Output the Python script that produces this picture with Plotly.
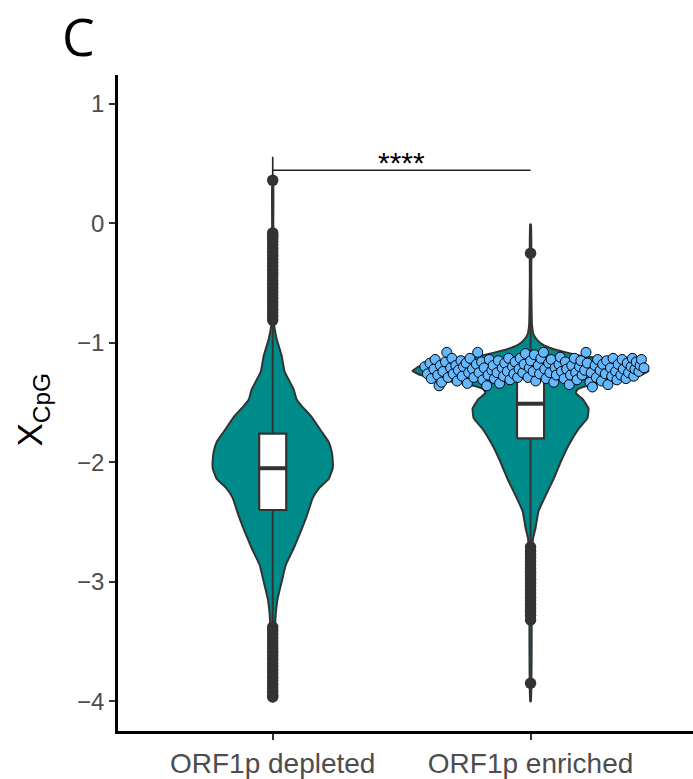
import plotly.graph_objects as go

# ---------------- data ----------------
categories = ["ORF1p depleted", "ORF1p enriched"]
cat_pos = [1, 2]

# box statistics per group
q1 = [-2.40, -1.80]
median = [-2.05, -1.51]
q3 = [-1.76, -1.22]
lowerfence = [-3.35, -2.68]
upperfence = [-0.83, -0.36]

# violin density profiles (y value, relative density)
dep_y = [0.36, 0.0, -0.5, -0.85, -0.97, -1.11, -1.24, -1.39, -1.47, -1.53, -1.61, -1.745,
         -1.83, -1.91, -1.98, -2.05, -2.14, -2.22, -2.30, -2.45, -2.58, -2.72, -2.86,
         -3.00, -3.14, -3.28, -3.56, -4.00]
dep_w = [0.004, 0.005, 0.007, 0.012, 0.034, 0.076, 0.10, 0.177, 0.20, 0.245, 0.32, 0.413,
         0.472, 0.497, 0.506, 0.506, 0.472, 0.388, 0.337, 0.287, 0.236, 0.177, 0.11,
         0.076, 0.042, 0.025, 0.01, 0.004]

enr_y = [-0.01, -0.5, -0.85, -0.93, -0.98, -1.02, -1.05, -1.08, -1.11, -1.14, -1.17, -1.20,
         -1.235, -1.27, -1.30, -1.33, -1.36, -1.39, -1.42, -1.47, -1.55, -1.63, -1.72,
         -1.86, -2.00, -2.14, -2.28, -2.41, -2.55, -2.64, -2.90, -4.00]
enr_w = [0.004, 0.006, 0.012, 0.025, 0.059, 0.11, 0.185, 0.30, 0.44, 0.69, 0.86, 0.944,
         0.995, 0.927, 0.80, 0.632, 0.48, 0.396, 0.38, 0.438, 0.489, 0.48, 0.405,
         0.32, 0.253, 0.194, 0.126, 0.067, 0.042, 0.021, 0.01, 0.004]

# box-plot outliers
dep_out = [0.36, -0.08, -0.10, -0.12, -0.15, -0.18, -0.21, -0.24, -0.27, -0.30, -0.33,
           -0.36, -0.39, -0.42, -0.45, -0.48, -0.51, -0.54, -0.57, -0.60, -0.63, -0.66,
           -0.69, -0.72, -0.75, -0.78, -0.81,
           -3.38, -3.41, -3.44, -3.47, -3.50, -3.53, -3.56, -3.59, -3.62, -3.65, -3.68,
           -3.71, -3.74, -3.77, -3.80, -3.83, -3.86, -3.89, -3.92, -3.95, -3.965]
enr_out = [-0.25, -2.71, -2.74, -2.77, -2.80, -2.83, -2.86, -2.89, -2.92, -2.95, -2.98,
           -3.01, -3.04, -3.07, -3.10, -3.13, -3.16, -3.19, -3.22, -3.25, -3.28, -3.32,
           -3.85]

# jittered highlighted points of the enriched group (offset from category, value)
jitter_pts = [
    (-0.41, -1.20), (-0.40, -1.26), (-0.39, -1.17), (-0.385, -1.30), (-0.375, -1.22), (-0.37, -1.14), (-0.36, -1.27), (-0.355, -1.36),
    (-0.35, -1.19), (-0.345, -1.33), (-0.34, -1.24), (-0.33, -1.16), (-0.325, -1.08), (-0.32, -1.29), (-0.31, -1.21), (-0.305, -1.13),
    (-0.30, -1.26), (-0.29, -1.19), (-0.285, -1.32), (-0.28, -1.23), (-0.27, -1.15), (-0.265, -1.28), (-0.26, -1.20), (-0.25, -1.17),
    (-0.245, -1.34), (-0.24, -1.25), (-0.235, -1.13), (-0.225, -1.22), (-0.22, -1.29), (-0.21, -1.18), (-0.205, -1.08), (-0.20, -1.25),
    (-0.19, -1.16), (-0.185, -1.31), (-0.18, -1.21), (-0.17, -1.36), (-0.165, -1.27), (-0.16, -1.14), (-0.15, -1.23), (-0.145, -1.19),
    (-0.14, -1.30), (-0.13, -1.25), (-0.125, -1.15), (-0.12, -1.34), (-0.11, -1.21), (-0.105, -1.28), (-0.10, -1.17), (-0.09, -1.24),
    (-0.085, -1.13), (-0.08, -1.31), (-0.07, -1.20), (-0.065, -1.26), (-0.06, -1.16), (-0.05, -1.29), (-0.045, -1.22), (-0.04, -1.13),
    (-0.03, -1.25), (-0.025, -1.18), (-0.02, -1.09), (-0.01, -1.29), (-0.005, -1.21), (0.0, -1.15), (0.01, -1.24), (0.015, -1.10),
    (0.02, -1.32), (0.03, -1.19), (0.035, -1.26), (0.04, -1.13), (0.05, -1.08), (0.055, -1.22), (0.06, -1.30), (0.07, -1.17),
    (0.075, -1.25), (0.08, -1.14), (0.09, -1.33), (0.095, -1.21), (0.10, -1.27), (0.11, -1.18), (0.115, -1.12), (0.12, -1.24),
    (0.13, -1.30), (0.135, -1.16), (0.14, -1.22), (0.15, -1.35), (0.155, -1.27), (0.16, -1.19), (0.17, -1.13), (0.175, -1.25),
    (0.18, -1.31), (0.19, -1.20), (0.195, -1.15), (0.20, -1.27), (0.21, -1.23), (0.215, -1.08), (0.22, -1.17), (0.23, -1.33),
    (0.235, -1.25), (0.24, -1.37), (0.25, -1.19), (0.255, -1.29), (0.26, -1.14), (0.27, -1.23), (0.275, -1.32), (0.28, -1.18),
    (0.29, -1.26), (0.295, -1.15), (0.30, -1.35), (0.31, -1.21), (0.315, -1.28), (0.32, -1.13), (0.33, -1.24), (0.335, -1.31),
    (0.34, -1.18), (0.35, -1.27), (0.355, -1.14), (0.36, -1.22), (0.37, -1.30), (0.375, -1.17), (0.38, -1.25), (0.39, -1.20),
    (0.395, -1.13), (0.40, -1.28), (0.405, -1.22), (0.41, -1.16), (0.42, -1.24), (0.425, -1.19), (0.43, -1.14), (0.44, -1.21),
]
jitter_dx = [p[0] for p in jitter_pts]
jitter_y = [p[1] for p in jitter_pts]

y_ticks = [-4, -3, -2, -1, 0, 1]
sig_label = "****"
sig_bar_y = 0.445
sig_tip_top = 0.557
sig_tip_bottom = 0.40

# ---------------- style ----------------
VIOLIN_HALF = 0.46
BOX_W = 0.105
TEAL = "#008B8B"
DARK = "#333333"
BLUE = "#63B8FF"
FONT = "Liberation Sans"

fig = go.Figure()


def violin_trace(pos, ys, ws):
    xr = [pos + w * VIOLIN_HALF for w in ws]
    xl = [pos - w * VIOLIN_HALF for w in ws][::-1]
    return go.Scatter(
        x=xr + xl + [xr[0]], y=ys + ys[::-1] + [ys[0]],
        mode="lines", fill="toself", fillcolor=TEAL,
        line=dict(color=DARK, width=2, shape="spline", smoothing=0.3),
        hoverinfo="skip", showlegend=False,
    )


fig.add_trace(violin_trace(cat_pos[0], dep_y, dep_w))
fig.add_trace(violin_trace(cat_pos[1], enr_y, enr_w))

for i, pos in enumerate(cat_pos):
    # whiskers
    fig.add_trace(go.Scatter(
        x=[pos, pos, None, pos, pos],
        y=[q3[i], upperfence[i], None, q1[i], lowerfence[i]],
        mode="lines", line=dict(color=DARK, width=2),
        showlegend=False, hoverinfo="skip",
    ))
    # box
    xl, xr = pos - BOX_W / 2, pos + BOX_W / 2
    fig.add_trace(go.Scatter(
        x=[xl, xr, xr, xl, xl], y=[q1[i], q1[i], q3[i], q3[i], q1[i]],
        mode="lines", fill="toself", fillcolor="white",
        line=dict(color=DARK, width=2.2),
        showlegend=False, hoverinfo="skip",
    ))
    # median
    fig.add_trace(go.Scatter(
        x=[xl, xr], y=[median[i], median[i]],
        mode="lines", line=dict(color=DARK, width=4), showlegend=False, hoverinfo="skip",
    ))

for pos, outs in zip(cat_pos, [dep_out, enr_out]):
    fig.add_trace(go.Scatter(
        x=[pos] * len(outs), y=outs, mode="markers",
        marker=dict(size=11.5, color=DARK, line=dict(width=0)),
        showlegend=False, hoverinfo="skip",
    ))

fig.add_trace(go.Scatter(
    x=[cat_pos[1] + d for d in jitter_dx], y=jitter_y, mode="markers",
    marker=dict(size=10, color=BLUE, line=dict(color="black", width=1)),
    showlegend=False, hoverinfo="skip",
))

# significance bracket
fig.add_trace(go.Scatter(
    x=[cat_pos[0], cat_pos[0], None, cat_pos[0], cat_pos[1]],
    y=[sig_tip_top, sig_tip_bottom, None, sig_bar_y, sig_bar_y],
    mode="lines", line=dict(color="#222222", width=1.6),
    showlegend=False, hoverinfo="skip",
))
fig.add_annotation(
    x=(cat_pos[0] + cat_pos[1]) / 2, y=sig_bar_y, yshift=-11, text=sig_label,
    showarrow=False, xanchor="center", yanchor="bottom",
    font=dict(family=FONT, size=30, color="black"),
)

# y title
fig.add_annotation(
    xref="paper", yref="paper", x=0, y=0.49, xshift=-86, text="X<sub>CpG</sub>",
    textangle=-90, showarrow=False, xanchor="center", yanchor="middle",
    font=dict(family=FONT, size=35, color="black"),
)
# panel tag
fig.add_annotation(
    xref="paper", yref="paper", x=0, y=1, xshift=-40, yshift=40, text="C",
    showarrow=False, xanchor="center", yanchor="middle",
    font=dict(family="Open Sans", size=52, color="black"),
)

fig.update_layout(
    width=693, height=779, autosize=False,
    margin=dict(l=118, r=0, t=75, b=46),
    paper_bgcolor="white", plot_bgcolor="white",
    showlegend=False,
    xaxis=dict(
        range=[0.4, 2.63], tickvals=cat_pos, ticktext=categories,
        showline=True, linecolor="black", linewidth=2.5,
        ticks="outside", ticklen=6, tickwidth=2, tickcolor=DARK,
        showgrid=False, zeroline=False,
        tickfont=dict(family=FONT, size=28, color="#4D4D4D"),
    ),
    yaxis=dict(
        range=[-4.25, 1.242], tickvals=y_ticks,
        showline=True, linecolor="black", linewidth=2.5,
        ticks="outside", ticklen=6, tickwidth=2, tickcolor=DARK,
        showgrid=False, zeroline=False,
        tickfont=dict(family=FONT, size=24, color="#4D4D4D"),
    ),
)

fig.write_html("out.html")
